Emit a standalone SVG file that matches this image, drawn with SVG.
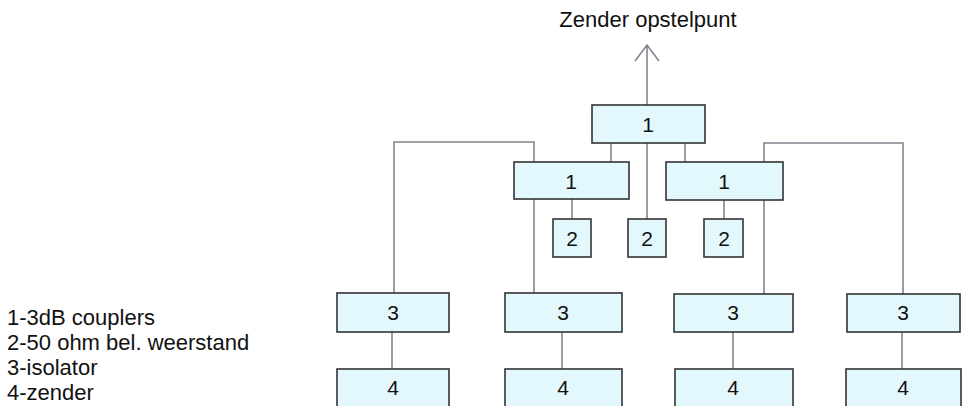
<svg xmlns="http://www.w3.org/2000/svg" width="966" height="406" viewBox="0 0 966 406">
  <style>
    .box { fill: #e3f8fc; stroke: #333; stroke-width: 1.6; }
    .lbl { font-family: "Liberation Sans", Arial, sans-serif; font-size: 21px; fill: #111; text-anchor: middle; dominant-baseline: central; }
    .txt { font-family: "Liberation Sans", Arial, sans-serif; font-size: 22px; fill: #111; }
    .wire { fill: none; stroke: #80858f; stroke-width: 1.6; }
  </style>
  <rect width="966" height="406" fill="#fff"/>

  <!-- title -->
  <text class="txt" x="648" y="27" text-anchor="middle">Zender opstelpunt</text>

  <!-- connectors -->
  <g id="connectors">
    <path class="wire" d="M647,105 V45 M635,61 L647,45 L659,61"/>
    <path class="wire" d="M611,143 V162 M685,143 V162 M647,143 V219"/>
    <path class="wire" d="M534,162 V142 H394 V293"/>
    <path class="wire" d="M764,162 V143 H903 V294"/>
    <path class="wire" d="M534,199 V293 M572,199 V219"/>
    <path class="wire" d="M764,200 V294 M724,200 V219"/>
    <path class="wire" d="M392,332 V369 M562,332 V369 M733,332 V369 M902,332 V369"/>
  </g>

  <!-- couplers -->
  <g id="coupler-top"><rect class="box" x="592" y="105" width="113" height="38"/><text class="lbl" x="648" y="124">1</text></g>
  <g id="coupler-left"><rect class="box" x="514" y="162" width="115" height="37"/><text class="lbl" x="571" y="181">1</text></g>
  <g id="coupler-right"><rect class="box" x="666" y="162" width="117" height="38"/><text class="lbl" x="724" y="181">1</text></g>

  <!-- loads -->
  <g id="load-a"><rect class="box" x="553" y="219" width="38" height="38"/><text class="lbl" x="572" y="238">2</text></g>
  <g id="load-b"><rect class="box" x="628" y="219" width="38" height="38"/><text class="lbl" x="647" y="238">2</text></g>
  <g id="load-c"><rect class="box" x="704" y="219" width="39" height="38"/><text class="lbl" x="724" y="238">2</text></g>

  <!-- isolators -->
  <g id="isolator-1"><rect class="box" x="337" y="293" width="112" height="39"/><text class="lbl" x="393" y="312">3</text></g>
  <g id="isolator-2"><rect class="box" x="505" y="293" width="117" height="39"/><text class="lbl" x="563" y="312">3</text></g>
  <g id="isolator-3"><rect class="box" x="674" y="294" width="119" height="38"/><text class="lbl" x="733" y="312">3</text></g>
  <g id="isolator-4"><rect class="box" x="847" y="294" width="113" height="38"/><text class="lbl" x="903" y="312">3</text></g>

  <!-- transmitters -->
  <g id="transmitter-1"><rect class="box" x="337" y="369" width="112" height="45"/><text class="lbl" x="393" y="387">4</text></g>
  <g id="transmitter-2"><rect class="box" x="505" y="369" width="117" height="45"/><text class="lbl" x="563" y="387">4</text></g>
  <g id="transmitter-3"><rect class="box" x="675" y="369" width="118" height="45"/><text class="lbl" x="733" y="387">4</text></g>
  <g id="transmitter-4"><rect class="box" x="846" y="369" width="115" height="45"/><text class="lbl" x="903" y="387">4</text></g>

  <!-- legend -->
  <g id="legend">
    <text class="txt" x="7" y="325">1-3dB couplers</text>
    <text class="txt" x="7" y="350">2-50 ohm bel. weerstand</text>
    <text class="txt" x="7" y="375">3-isolator</text>
    <text class="txt" x="7" y="400">4-zender</text>
  </g>
</svg>
